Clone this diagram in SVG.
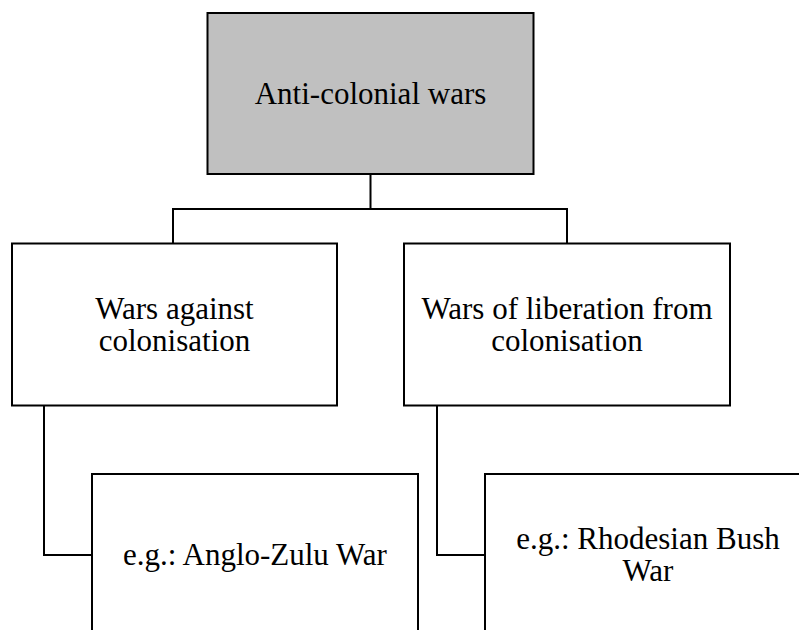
<svg xmlns="http://www.w3.org/2000/svg" width="799" height="630" viewBox="0 0 799 630">
<style>
.box{fill:#ffffff;stroke:#000000;stroke-width:2}
.root{fill:#c0c0c0;stroke:#000000;stroke-width:2}
.conn{fill:none;stroke:#000000;stroke-width:2}
</style>
<rect width="799" height="630" fill="#ffffff"/>
<g id="connectors">
<path class="conn" d="M370.5 174 V209 M173 209 H567 M173 208 V243.5 M567 208 V243.5"/>
<path class="conn" d="M44 405.5 V555 H92"/>
<path class="conn" d="M437 405.5 V555 H485"/>
</g>
<g font-family="'Liberation Serif', 'DejaVu Serif', serif" font-size="31" fill="#000000" text-anchor="middle">
<g id="root">
<rect class="root" x="207.5" y="13" width="326" height="161"/>
<text x="370.5" y="104">Anti-colonial wars</text>
</g>
<g id="against">
<rect class="box" x="12" y="243.5" width="325" height="162"/>
<text x="174.5" y="319">Wars against</text>
<text x="174.5" y="351">colonisation</text>
</g>
<g id="liberation">
<rect class="box" x="404" y="243.5" width="326" height="162"/>
<text x="567" y="319">Wars of liberation from</text>
<text x="567" y="351">colonisation</text>
</g>
<g id="zulu">
<rect class="box" x="92" y="474" width="326" height="161"/>
<text x="255" y="564.5">e.g.: Anglo-Zulu War</text>
</g>
<g id="rhodesian">
<rect class="box" x="485" y="474" width="326" height="161"/>
<text x="648" y="549">e.g.: Rhodesian Bush</text>
<text x="648" y="581">War</text>
</g>
</g>
</svg>
